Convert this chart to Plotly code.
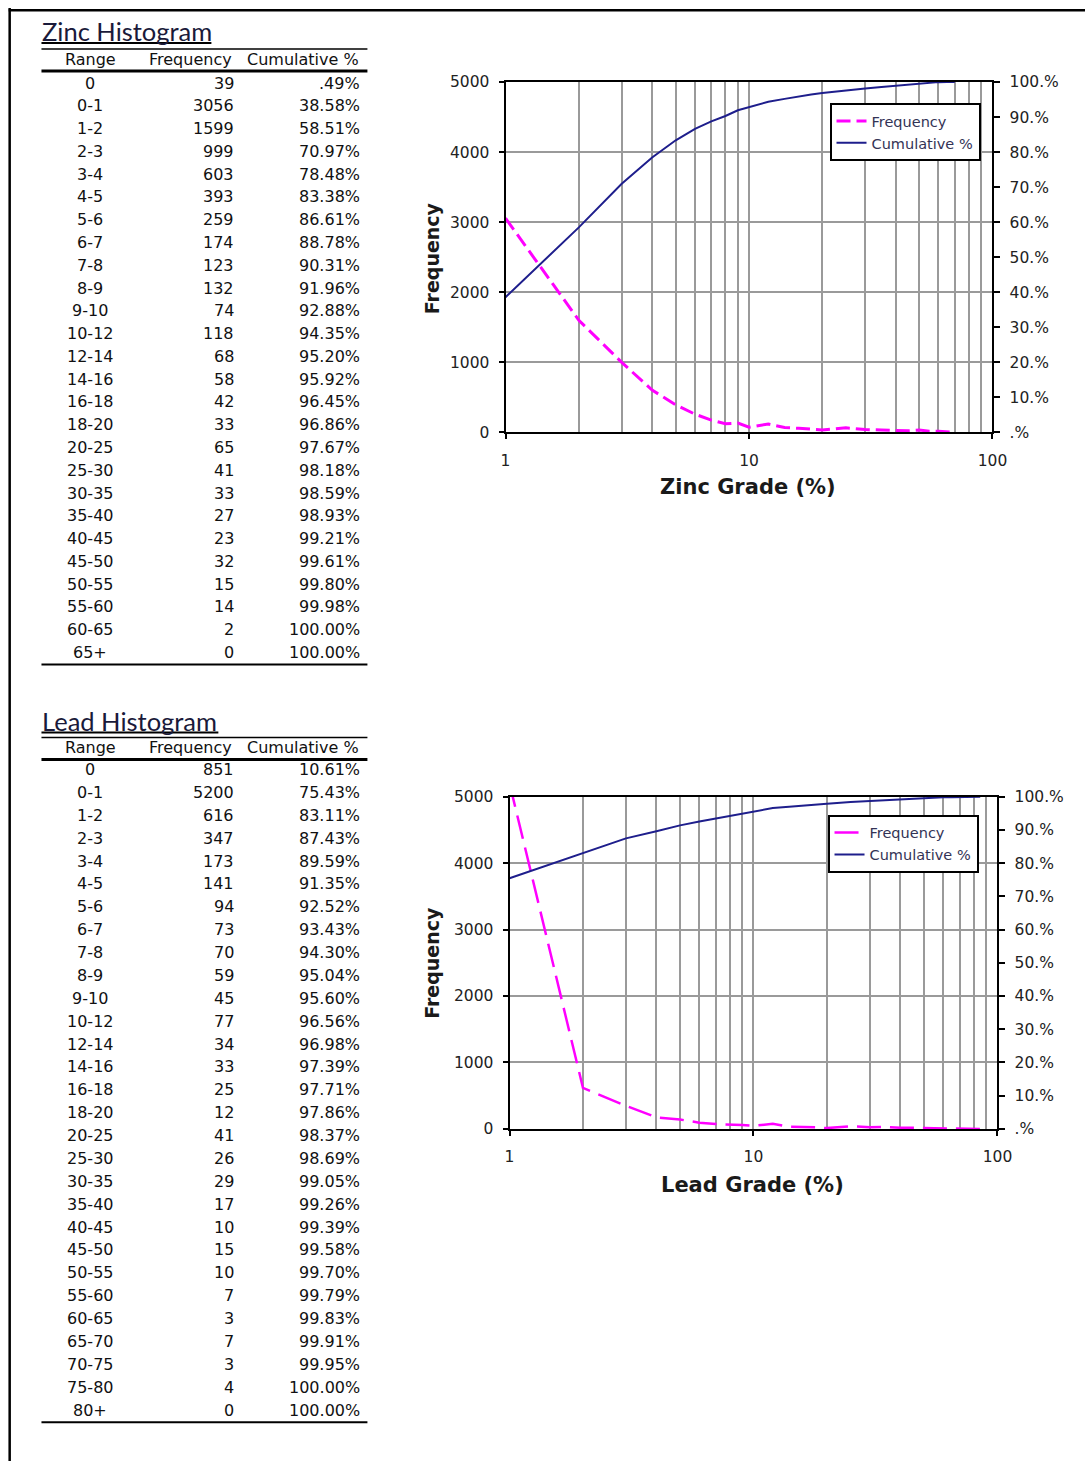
import plotly.graph_objects as go

# Figure fills the page (body margin removed in the written page).
W, H = 1100, 1474
# calibration between target-picture pixels and page pixels
SX, OX = 0.988, 2.3
SY, OY = 0.987, 9.0

# ---------------- data ----------------
zinc_ranges = ["0", "0-1", "1-2", "2-3", "3-4", "4-5", "5-6", "6-7", "7-8", "8-9", "9-10",
               "10-12", "12-14", "14-16", "16-18", "18-20", "20-25", "25-30", "30-35",
               "35-40", "40-45", "45-50", "50-55", "55-60", "60-65", "65+"]
zinc_freq = [39, 3056, 1599, 999, 603, 393, 259, 174, 123, 132, 74, 118, 68, 58, 42, 33,
             65, 41, 33, 27, 23, 32, 15, 14, 2, 0]
zinc_cum = [0.49, 38.58, 58.51, 70.97, 78.48, 83.38, 86.61, 88.78, 90.31, 91.96, 92.88,
            94.35, 95.20, 95.92, 96.45, 96.86, 97.67, 98.18, 98.59, 98.93, 99.21, 99.61,
            99.80, 99.98, 100.00, 100.00]
# grade (upper bin bound) used on the log x axis, one per range after "0"
zinc_grade = [1, 2, 3, 4, 5, 6, 7, 8, 9, 10, 12, 14, 16, 18, 20, 25, 30, 35, 40, 45, 50,
              55, 60, 65, 70]

lead_ranges = ["0", "0-1", "1-2", "2-3", "3-4", "4-5", "5-6", "6-7", "7-8", "8-9", "9-10",
               "10-12", "12-14", "14-16", "16-18", "18-20", "20-25", "25-30", "30-35",
               "35-40", "40-45", "45-50", "50-55", "55-60", "60-65", "65-70", "70-75",
               "75-80", "80+"]
lead_freq = [851, 5200, 616, 347, 173, 141, 94, 73, 70, 59, 45, 77, 34, 33, 25, 12, 41, 26,
             29, 17, 10, 15, 10, 7, 3, 7, 3, 4, 0]
lead_cum = [10.61, 75.43, 83.11, 87.43, 89.59, 91.35, 92.52, 93.43, 94.30, 95.04, 95.60,
            96.56, 96.98, 97.39, 97.71, 97.86, 98.37, 98.69, 99.05, 99.26, 99.39, 99.58,
            99.70, 99.79, 99.83, 99.91, 99.95, 100.00, 100.00]
lead_grade = [1, 2, 3, 4, 5, 6, 7, 8, 9, 10, 12, 14, 16, 18, 20, 25, 30, 35, 40, 45, 50, 55,
              60, 65, 70, 75, 80, 85]

table_headers = ["Range", "Frequency", "Cumulative %"]
freq_ticks = [0, 1000, 2000, 3000, 4000, 5000]
pct_tickvals = [0, 10, 20, 30, 40, 50, 60, 70, 80, 90, 100]
pct_ticktext = [".%", "10.%", "20.%", "30.%", "40.%", "50.%", "60.%", "70.%", "80.%",
                "90.%", "100.%"]
grade_ticks = [1, 10, 100]

# ---------------- helpers (target pixel -> paper) ----------------
def X(px):
    return ((px - OX) / SX) / W


def Y(py):
    return 1 - ((py - OY) / SY) / H


def fmt_pct(v):
    s = f"{v:.2f}%"
    if s.startswith("0."):
        s = s[1:]
    return s


TXT = "#111111"
TFONT = "DejaVu Sans"
MAGENTA = "#FF00FF"
NAVY = "#1E1E8C"
GRID = "#9a9a9a"

fig = go.Figure()

# ---------------- traces ----------------
fig.add_trace(go.Scatter(x=zinc_grade, y=zinc_freq[1:], name="Frequency", mode="lines",
                         line=dict(color=MAGENTA, width=3, dash="14px,6px"),
                         xaxis="x", yaxis="y", legend="legend"))
fig.add_trace(go.Scatter(x=zinc_grade, y=zinc_cum[1:], name="Cumulative %", mode="lines",
                         line=dict(color=NAVY, width=2),
                         xaxis="x", yaxis="y2", legend="legend"))
fig.add_trace(go.Scatter(x=lead_grade, y=lead_freq[1:], name="Frequency", mode="lines",
                         line=dict(color=MAGENTA, width=2.5, dash="24px,9px"),
                         xaxis="x2", yaxis="y3", legend="legend2"))
fig.add_trace(go.Scatter(x=lead_grade, y=lead_cum[1:], name="Cumulative %", mode="lines",
                         line=dict(color=NAVY, width=2),
                         xaxis="x2", yaxis="y4", legend="legend2"))

tickfont = dict(family=TFONT, size=15.5, color="#222222")


def xaxis_cfg(dom, anchor):
    return dict(domain=dom, anchor=anchor, type="log", range=[0, 2],
                tickvals=grade_ticks, ticktext=[str(v) for v in grade_ticks],
                showgrid=True, gridcolor=GRID, gridwidth=1.5,
                minor=dict(dtick="D1", showgrid=True, gridcolor=GRID, gridwidth=1.5),
                showline=True, linecolor="black", linewidth=2, mirror=True,
                ticks="outside", ticklen=5, tickcolor="black", tickwidth=2,
                tickfont=tickfont, ticklabelstandoff=8, zeroline=False, fixedrange=True)


def yleft_cfg(dom, anchor):
    return dict(domain=dom, anchor=anchor, range=[0, 5000], tickvals=freq_ticks,
                showgrid=True, gridcolor=GRID, gridwidth=1.5,
                showline=True, linecolor="black", linewidth=2, mirror=False,
                ticks="outside", ticklen=5, tickcolor="black", tickwidth=2,
                tickfont=tickfont, ticklabelstandoff=6, zeroline=False)


def yright_cfg(over, anchor):
    return dict(overlaying=over, anchor=anchor, side="right", range=[0, 100],
                tickvals=pct_tickvals, ticktext=pct_ticktext, showgrid=False,
                showline=True, linecolor="black", linewidth=2,
                ticks="outside", ticklen=6, tickcolor="black", tickwidth=2,
                tickfont=tickfont, ticklabelstandoff=6, zeroline=False)


fig.update_layout(
    width=W, height=H, margin=dict(l=0, r=0, t=0, b=0),
    paper_bgcolor="white", plot_bgcolor="white",
    xaxis=xaxis_cfg([X(506), X(996)], "y"),
    yaxis=yleft_cfg([Y(432), Y(82)], "x"),
    yaxis2=yright_cfg("y", "x"),
    xaxis2=xaxis_cfg([X(510), X(1001)], "y3"),
    yaxis3=yleft_cfg([Y(1128), Y(796)], "x2"),
    yaxis4=yright_cfg("y3", "x2"),
    yaxis5=dict(overlaying="y", anchor="x", side="right", range=[0, 100],
                tickvals=pct_tickvals, showticklabels=False, showgrid=False,
                ticks="inside", ticklen=7, tickcolor="black", tickwidth=2, zeroline=False),
    yaxis6=dict(overlaying="y3", anchor="x2", side="right", range=[0, 100],
                tickvals=pct_tickvals, showticklabels=False, showgrid=False,
                ticks="inside", ticklen=7, tickcolor="black", tickwidth=2, zeroline=False),
    legend=dict(x=X(832), y=Y(103), xanchor="left", yanchor="top",
                bordercolor="black", borderwidth=2, bgcolor="white",
                font=dict(family=TFONT, size=14.5, color="#333355"),
                tracegroupgap=0, itemwidth=30),
    legend2=dict(x=X(830), y=Y(814), xanchor="left", yanchor="top",
                 bordercolor="black", borderwidth=2, bgcolor="white",
                 font=dict(family=TFONT, size=14.5, color="#333355"),
                 tracegroupgap=0, itemwidth=30),
    showlegend=True,
)

# ---------------- tables ----------------
ann = []
shapes = []


def hline(x0, x1, y, w):
    shapes.append(dict(type="line", xref="paper", yref="paper", x0=X(x0), x1=X(x1),
                       y0=Y(y), y1=Y(y), line=dict(color="black", width=w)))


def add_table(title, title_y, title_x1, head_y, row_y0, row_dy, ranges, freq, cum,
              top_line, head_line, bottom_line):
    ann.append(dict(text=title, x=X(38), y=Y(title_y), xref="paper", yref="paper",
                    xanchor="left", yanchor="middle", showarrow=False,
                    font=dict(family="Lato", size=25.5, color="#1a1a3a")))
    hline(39, title_x1, title_y + 12, 2)
    hline(39, 367, top_line, 1.5)
    hline(39, 367, head_line, 3)
    hline(39, 367, bottom_line, 2)
    f = dict(family=TFONT, size=16, color=TXT)
    ann.append(dict(text=table_headers[0], x=X(88), y=Y(head_y), xref="paper", yref="paper",
                    xanchor="center", yanchor="middle", showarrow=False, font=f))
    ann.append(dict(text=table_headers[1], x=X(233), y=Y(head_y), xref="paper", yref="paper",
                    xanchor="right", yanchor="middle", showarrow=False, font=f))
    ann.append(dict(text=table_headers[2], x=X(361), y=Y(head_y), xref="paper", yref="paper",
                    xanchor="right", yanchor="middle", showarrow=False, font=f))
    for i, (r, fr, c) in enumerate(zip(ranges, freq, cum)):
        yy = Y(row_y0 + i * row_dy)
        ann.append(dict(text=r, x=X(88), y=yy, xref="paper", yref="paper",
                        xanchor="center", yanchor="middle", showarrow=False, font=f))
        ann.append(dict(text=str(fr), x=X(235), y=yy, xref="paper", yref="paper",
                        xanchor="right", yanchor="middle", showarrow=False, font=f))
        ann.append(dict(text=fmt_pct(c), x=X(362), y=yy, xref="paper", yref="paper",
                        xanchor="right", yanchor="middle", showarrow=False, font=f))


add_table("Zinc Histogram", 31, 210, 59, 83, (652 - 83) / 25, zinc_ranges, zinc_freq,
          zinc_cum, 49, 71, 664)
add_table("Lead Histogram", 720, 217, 747, 769, (1409 - 769) / 28, lead_ranges, lead_freq,
          lead_cum, 737, 759, 1421)

# ---------------- axis titles ----------------
bold = dict(family=TFONT, size=21, color="#1a1a1a")
ytitle = dict(family=TFONT, size=19, color="#1a1a1a")
ann.append(dict(text="<b>Frequency</b>", x=X(432), y=Y(258), xref="paper", yref="paper",
                textangle=-90, showarrow=False, xanchor="center", yanchor="middle",
                font=ytitle))
ann.append(dict(text="<b>Zinc Grade (%)</b>", x=X(750), y=Y(487), xref="paper", yref="paper",
                showarrow=False, xanchor="center", yanchor="middle", font=bold))
ann.append(dict(text="<b>Frequency</b>", x=X(432), y=Y(962), xref="paper", yref="paper",
                textangle=-90, showarrow=False, xanchor="center", yanchor="middle",
                font=ytitle))
ann.append(dict(text="<b>Lead Grade (%)</b>", x=X(755), y=Y(1184), xref="paper", yref="paper",
                showarrow=False, xanchor="center", yanchor="middle", font=bold))

# ---------------- page border (left and top edges) ----------------
shapes.append(dict(type="line", xref="paper", yref="paper", x0=X(7), x1=X(7),
                   y0=Y(8), y1=0, line=dict(color="black", width=2.5)))
shapes.append(dict(type="line", xref="paper", yref="paper", x0=X(6), x1=1,
                   y0=Y(10.2), y1=Y(10.2), line=dict(color="black", width=2.5)))

fig.update_layout(annotations=ann, shapes=shapes)

fig.write_html("out.html", config={"displayModeBar": False},
               post_script="document.body.style.margin='0px';")
